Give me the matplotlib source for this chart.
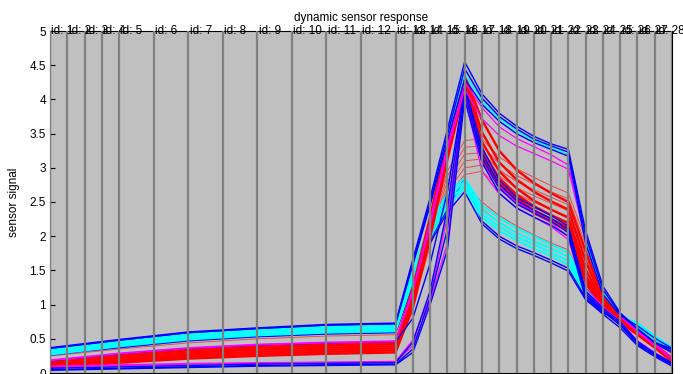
import numpy as np
import matplotlib
matplotlib.use("Agg")
import matplotlib.pyplot as plt

plt.rcParams['font.family'] = ['Liberation Sans', 'DejaVu Sans']

# sample times (s) at which the signal values below were taken
t = [0, 2, 4, 8, 12, 16, 20, 21, 22, 23, 24, 25, 26, 27, 28, 29, 30, 31, 32, 33, 34, 35, 36]

# step boundaries of the gas program, one label per step
segment_edges = [0, 1, 2, 3, 4, 6, 8, 10, 12, 14, 16, 18, 20, 21, 22, 23, 24,
                 25, 26, 27, 28, 29, 30, 31, 32, 33, 34, 35, 36]
segment_labels = ['id: %d' % i for i in range(1, 29)]

# sensor traces, grouped by the colour they are plotted in
top_blue = [
    [0.37, 0.43, 0.49, 0.60, 0.66, 0.71, 0.73, 1.66, 2.56, 3.56, 4.55, 4.08, 3.80, 3.61, 3.46, 3.35, 3.27, 2.08, 1.27, 0.88, 0.65, 0.45, 0.35],
    [0.36, 0.42, 0.48, 0.59, 0.65, 0.70, 0.72, 1.62, 2.50, 3.48, 4.45, 4.02, 3.75, 3.57, 3.42, 3.32, 3.23, 2.00, 1.22, 0.86, 0.64, 0.44, 0.34],
    [0.36, 0.42, 0.48, 0.59, 0.65, 0.70, 0.72, 1.58, 2.45, 3.40, 4.30, 3.93, 3.68, 3.50, 3.37, 3.27, 3.17, 1.90, 1.15, 0.84, 0.69, 0.51, 0.36],
]
top_cyan = [
    [0.35, 0.41, 0.47, 0.58, 0.64, 0.69, 0.71, 1.60, 2.47, 3.44, 4.38, 3.98, 3.72, 3.54, 3.40, 3.30, 3.20, 1.95, 1.18, 0.85, 0.70, 0.52, 0.37],
]
top_magenta = [
    [0.19, 0.24, 0.29, 0.37, 0.42, 0.45, 0.47, 1.22, 2.22, 3.32, 4.25, 3.88, 3.60, 3.43, 3.31, 3.19, 3.04, 2.02, 1.20, 0.85, 0.62, 0.42, 0.22],
    [0.18, 0.23, 0.28, 0.36, 0.41, 0.44, 0.46, 1.18, 2.15, 3.25, 4.15, 3.72, 3.47, 3.32, 3.21, 3.10, 2.98, 1.95, 1.16, 0.83, 0.60, 0.40, 0.20],
]
red_dense = [
    [0.17, 0.22, 0.27, 0.35, 0.39, 0.42, 0.44, 1.25, 2.28, 3.42, 4.35, 3.70, 3.25, 2.97, 2.78, 2.63, 2.50, 1.78, 1.10, 0.81, 0.61, 0.42, 0.22],
    [0.15, 0.20, 0.25, 0.33, 0.37, 0.40, 0.42, 1.18, 2.20, 3.36, 4.32, 3.52, 3.08, 2.83, 2.65, 2.51, 2.39, 1.64, 1.05, 0.79, 0.60, 0.41, 0.21],
    [0.13, 0.17, 0.22, 0.30, 0.34, 0.37, 0.39, 1.12, 2.13, 3.30, 4.28, 3.38, 2.95, 2.70, 2.52, 2.39, 2.27, 1.52, 1.01, 0.77, 0.59, 0.40, 0.20],
    [0.11, 0.15, 0.19, 0.27, 0.31, 0.34, 0.36, 1.06, 2.07, 3.24, 4.24, 3.26, 2.85, 2.61, 2.44, 2.31, 2.19, 1.43, 0.98, 0.76, 0.58, 0.39, 0.19],
    [0.09, 0.13, 0.17, 0.24, 0.28, 0.31, 0.33, 1.00, 2.02, 3.18, 4.20, 3.18, 2.78, 2.55, 2.38, 2.25, 2.13, 1.37, 0.96, 0.75, 0.57, 0.38, 0.18],
    [0.08, 0.11, 0.15, 0.21, 0.25, 0.28, 0.30, 0.95, 1.98, 3.12, 4.16, 3.12, 2.74, 2.51, 2.34, 2.21, 2.09, 1.32, 0.94, 0.74, 0.56, 0.37, 0.17],
]
red_light = [
    [0.25, 0.30, 0.35, 0.44, 0.50, 0.54, 0.56, 1.30, 2.15, 2.95, 3.40, 3.42, 3.16, 2.99, 2.86, 2.74, 2.63, 1.96, 1.13, 0.83, 0.62, 0.42, 0.22],
    [0.16, 0.21, 0.26, 0.34, 0.38, 0.41, 0.43, 1.20, 2.08, 2.88, 3.30, 3.32, 3.06, 2.89, 2.76, 2.65, 2.55, 1.88, 1.10, 0.82, 0.61, 0.41, 0.21],
    [0.14, 0.18, 0.23, 0.31, 0.35, 0.38, 0.40, 1.15, 2.02, 2.80, 3.20, 3.22, 2.97, 2.80, 2.68, 2.57, 2.46, 1.81, 1.07, 0.81, 0.60, 0.40, 0.20],
    [0.12, 0.16, 0.20, 0.28, 0.32, 0.35, 0.37, 1.10, 1.96, 2.72, 3.10, 3.13, 2.88, 2.71, 2.59, 2.48, 2.37, 1.74, 1.05, 0.80, 0.59, 0.39, 0.19],
    [0.10, 0.14, 0.18, 0.25, 0.29, 0.32, 0.34, 1.05, 1.90, 2.65, 3.00, 3.04, 2.79, 2.62, 2.50, 2.39, 2.29, 1.68, 1.03, 0.79, 0.58, 0.38, 0.19],
    [0.09, 0.12, 0.16, 0.22, 0.26, 0.29, 0.31, 1.00, 1.85, 2.58, 2.90, 2.95, 2.71, 2.54, 2.42, 2.31, 2.21, 1.62, 1.01, 0.78, 0.57, 0.37, 0.18],
    [0.28, 0.34, 0.40, 0.50, 0.56, 0.60, 0.62, 1.38, 2.05, 2.50, 2.75, 2.50, 2.30, 2.15, 2.02, 1.90, 1.80, 1.30, 0.99, 0.82, 0.68, 0.49, 0.30],
    [0.28, 0.34, 0.40, 0.50, 0.56, 0.60, 0.62, 1.36, 2.00, 2.45, 2.70, 2.40, 2.20, 2.05, 1.93, 1.82, 1.70, 1.24, 0.97, 0.81, 0.66, 0.47, 0.28],
]
low_blue = [
    [0.27, 0.33, 0.38, 0.48, 0.54, 0.58, 0.60, 1.32, 1.95, 2.40, 2.85, 2.22, 2.00, 1.86, 1.76, 1.65, 1.53, 1.10, 0.90, 0.78, 0.63, 0.45, 0.31],
    [0.26, 0.32, 0.37, 0.47, 0.53, 0.57, 0.59, 1.28, 1.90, 2.35, 2.65, 2.18, 1.96, 1.82, 1.72, 1.61, 1.49, 1.07, 0.88, 0.76, 0.61, 0.43, 0.30],
]
low_cyan = [
    [0.34, 0.40, 0.46, 0.57, 0.63, 0.67, 0.69, 1.50, 2.20, 2.62, 2.85, 2.45, 2.27, 2.12, 2.00, 1.88, 1.76, 1.26, 0.98, 0.83, 0.73, 0.54, 0.37],
    [0.31, 0.37, 0.43, 0.54, 0.60, 0.64, 0.66, 1.45, 2.12, 2.56, 2.80, 2.38, 2.20, 2.05, 1.93, 1.82, 1.70, 1.22, 0.96, 0.82, 0.71, 0.52, 0.36],
    [0.29, 0.35, 0.41, 0.51, 0.57, 0.61, 0.63, 1.40, 2.05, 2.50, 2.75, 2.32, 2.14, 1.99, 1.88, 1.76, 1.64, 1.18, 0.94, 0.81, 0.69, 0.50, 0.35],
    [0.27, 0.33, 0.39, 0.49, 0.55, 0.59, 0.61, 1.35, 1.98, 2.44, 2.70, 2.27, 2.08, 1.94, 1.82, 1.71, 1.58, 1.15, 0.92, 0.80, 0.67, 0.48, 0.34],
]
mid_blue = [
    [0.18, 0.23, 0.28, 0.36, 0.41, 0.44, 0.46, 0.80, 1.60, 2.65, 4.18, 3.22, 2.76, 2.52, 2.38, 2.26, 2.10, 1.16, 0.92, 0.72, 0.44, 0.27, 0.13],
    [0.07, 0.08, 0.09, 0.11, 0.13, 0.14, 0.15, 0.45, 1.20, 2.40, 4.20, 3.30, 2.82, 2.57, 2.43, 2.30, 2.15, 1.20, 0.95, 0.75, 0.46, 0.29, 0.15],
    [0.05, 0.06, 0.07, 0.09, 0.11, 0.12, 0.13, 0.35, 1.10, 2.10, 4.10, 3.15, 2.70, 2.47, 2.34, 2.22, 2.05, 1.13, 0.90, 0.70, 0.42, 0.26, 0.12],
    [0.04, 0.05, 0.06, 0.08, 0.10, 0.11, 0.12, 0.30, 1.00, 1.80, 4.00, 3.08, 2.63, 2.41, 2.28, 2.16, 2.00, 1.08, 0.86, 0.66, 0.40, 0.24, 0.10],
]
mid_magenta = [
    [0.10, 0.11, 0.12, 0.14, 0.15, 0.16, 0.17, 0.48, 1.12, 2.28, 4.12, 3.07, 2.72, 2.50, 2.36, 2.20, 1.99, 1.25, 0.97, 0.76, 0.47, 0.30, 0.15],
    [0.09, 0.10, 0.11, 0.13, 0.14, 0.15, 0.16, 0.40, 1.05, 1.90, 4.05, 2.95, 2.62, 2.42, 2.28, 2.14, 1.95, 1.18, 0.93, 0.72, 0.45, 0.28, 0.14],
]

fig = plt.figure(figsize=(6.83, 3.74), dpi=100)
ax = fig.add_axes([50 / 683, 1 / 374, 622 / 683, 342 / 374])
ax.set_facecolor('#c0c0c0')

# draw order: broad bands first, edges on top
groups = [
    (red_light, '#f04848', 0.7),
    (low_blue, '#0000ff', 1.0),
    (low_cyan, '#00ffff', 1.5),
    (red_dense, '#ff0000', 1.7),
    (mid_magenta, '#ff00ff', 0.9),
    (mid_blue, '#0000ff', 1.0),
    (top_magenta, '#ff00ff', 0.9),
    (top_cyan, '#00ffff', 1.2),
    (top_blue, '#0000ff', 1.0),
]
for curves, col, lw in groups:
    for y in curves:
        ax.plot(t, y, color=col, lw=lw, zorder=2)

# step separators sit on top of the traces
for e in segment_edges:
    ax.axvline(e, color='#808080', lw=1.6, zorder=3)
for e, lab in zip(segment_edges[:-1], segment_labels):
    ax.text(e + 0.08, 5, lab, fontsize=8.5, ha='left', va='center',
            clip_on=False, zorder=6)

ax.set_xlim(0, 36)
ax.set_ylim(0, 5)
ax.set_yticks(np.arange(0, 5.01, 0.5))
ax.set_yticklabels(['%g' % v for v in np.arange(0, 5.01, 0.5)])
ax.set_xticks(np.arange(0, 37, 4))
ax.set_xticklabels([])
ax.tick_params(direction='in', length=3.5, labelsize=8.5, pad=3)
for s in ax.spines.values():
    s.set_linewidth(0.8)

ax.set_title('dynamic sensor response', fontsize=8.5, pad=7)
ax.set_ylabel('sensor signal', fontsize=8.5)
ax.yaxis.set_label_coords(-0.048, 0.5)

fig.savefig('out.png', dpi=100)
